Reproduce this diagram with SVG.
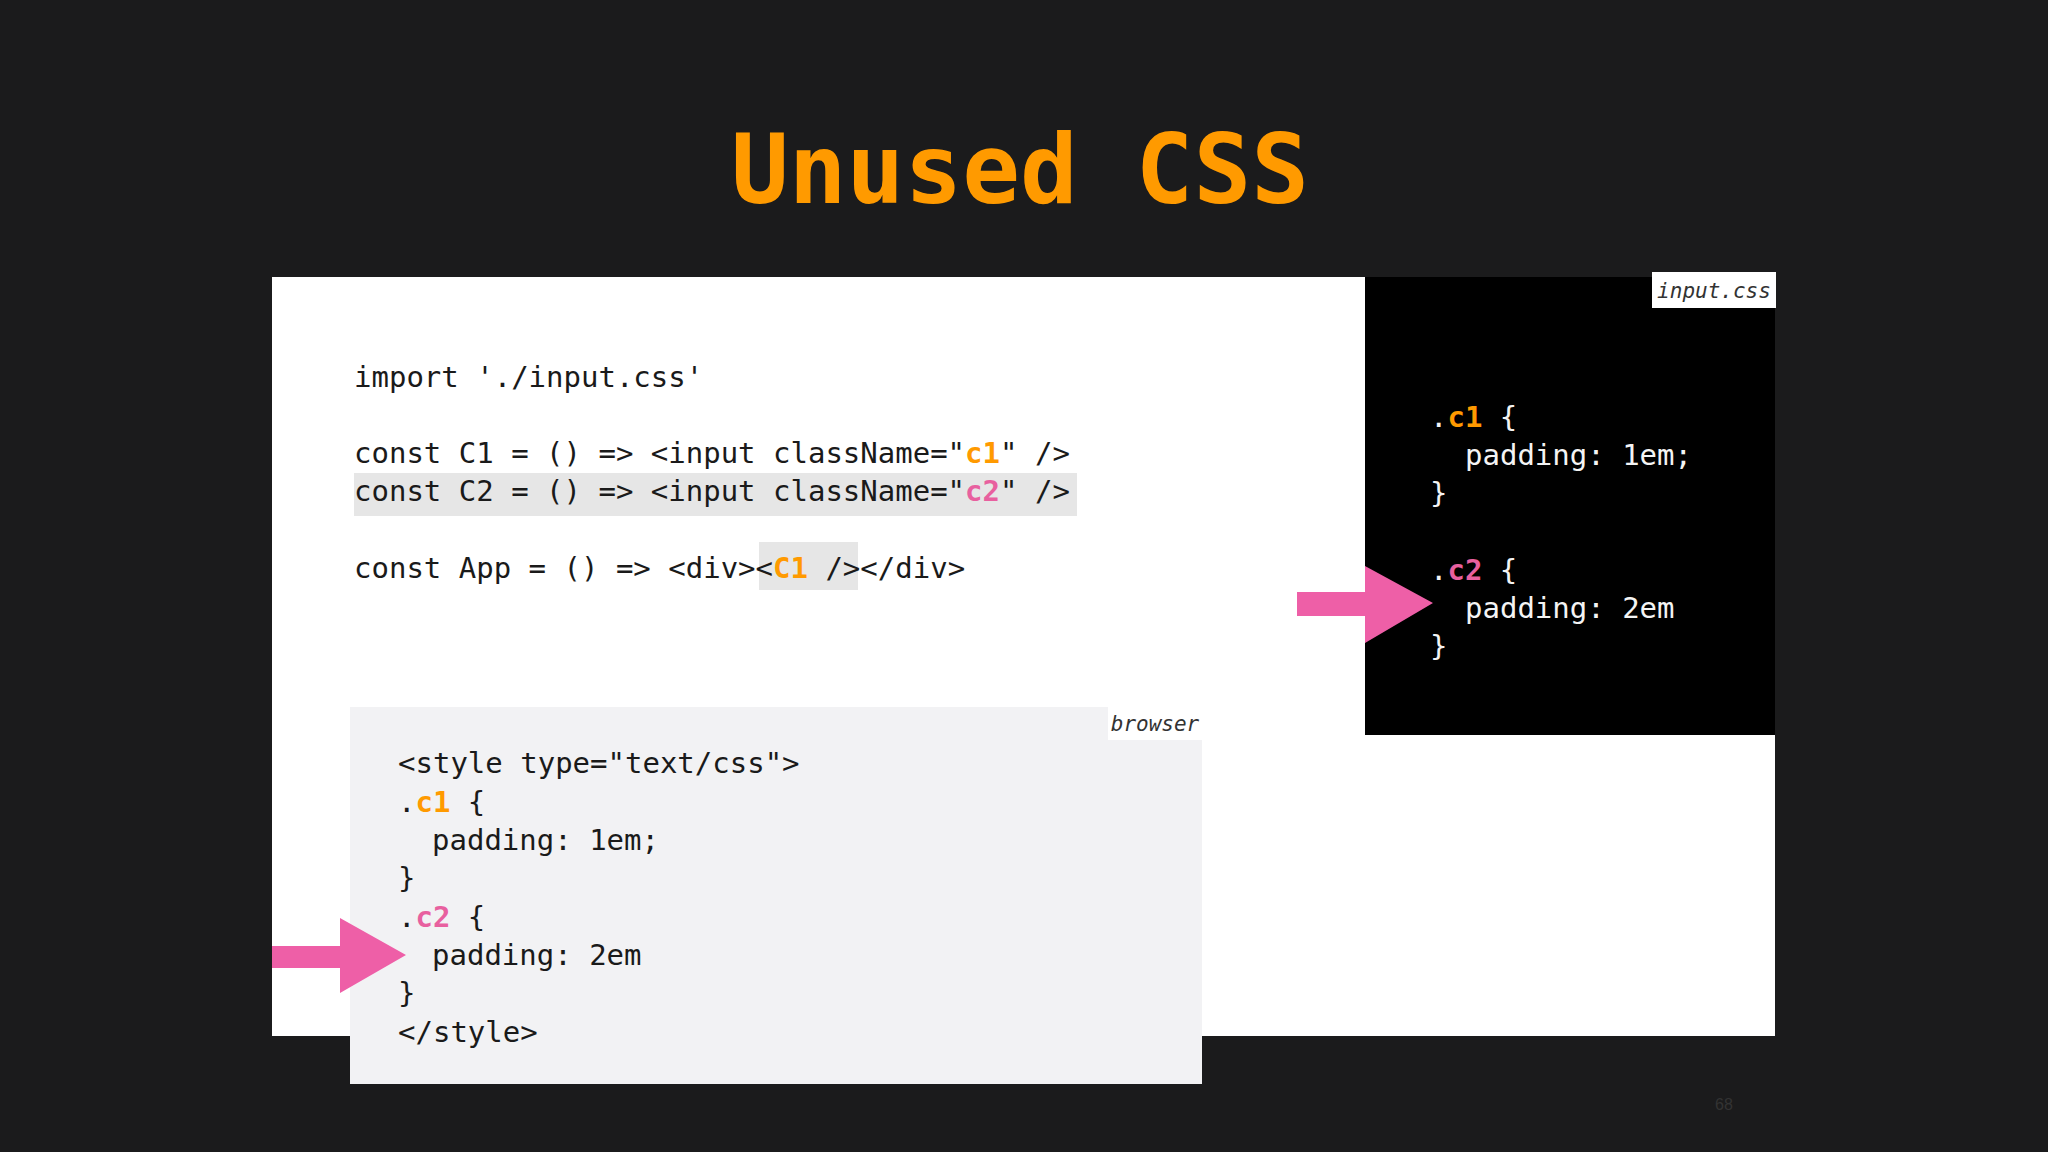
<svg xmlns="http://www.w3.org/2000/svg" width="2048" height="1152" viewBox="0 0 2048 1152">
<style>
.code{font-family:"DejaVu Sans Mono","Liberation Mono",monospace;font-size:29px;fill:#1a1a1a;white-space:pre}
.w{fill:#f4f4f4}
.o{fill:#ff9a00;font-weight:bold}
.p{fill:#e8609f;font-weight:bold}
.lbl{font-family:"DejaVu Sans Mono",monospace;font-style:italic;font-size:21px;fill:#333}
.arrow{fill:#ee5fa7}
</style>
<rect width="2048" height="1152" fill="#1b1b1c"/>
<text x="1020" y="203" text-anchor="middle" font-family="DejaVu Sans Mono,monospace" font-weight="bold" font-size="96" fill="#ff9a00">Unused CSS</text>
<g id="app">
<rect x="272" y="277" width="1503" height="759" fill="#ffffff"/>
<rect x="354" y="473" width="723" height="43" fill="#e6e6e6"/>
<rect x="759" y="542" width="99" height="48" fill="#e6e6e6"/>
<text class="code" x="354" y="387">import './input.css'</text>
<text class="code" x="354" y="463">const C1 = () =&gt; &lt;input className="<tspan class="o">c1</tspan>" /&gt;</text>
<text class="code" x="354" y="501">const C2 = () =&gt; &lt;input className="<tspan class="p">c2</tspan>" /&gt;</text>
<text class="code" x="354" y="578">const App = () =&gt; &lt;div&gt;&lt;<tspan class="o">C1</tspan> /&gt;&lt;/div&gt;</text>
</g>
<g id="inputcss">
<rect x="1365" y="277" width="410" height="458" fill="#000"/>
<rect x="1652" y="272" width="124" height="36" fill="#fff"/>
<text class="lbl" x="1714" y="298" text-anchor="middle">input.css</text>
<text class="code w" x="1430" y="427">.<tspan class="o">c1</tspan> {</text>
<text class="code w" x="1465" y="465">padding: 1em;</text>
<text class="code w" x="1430" y="503">}</text>
<text class="code w" x="1430" y="580">.<tspan class="p">c2</tspan> {</text>
<text class="code w" x="1465" y="618">padding: 2em</text>
<text class="code w" x="1430" y="656">}</text>
</g>
<g id="browser">
<rect x="350" y="707" width="852" height="377" fill="#f2f2f4"/>
<rect x="1108" y="707" width="94" height="33" fill="#fff"/>
<text class="lbl" x="1155" y="731" text-anchor="middle">browser</text>
<text class="code" x="398" y="773">&lt;style type="text/css"&gt;</text>
<text class="code" x="398" y="812">.<tspan class="o">c1</tspan> {</text>
<text class="code" x="432" y="850">padding: 1em;</text>
<text class="code" x="398" y="888">}</text>
<text class="code" x="398" y="927">.<tspan class="p">c2</tspan> {</text>
<text class="code" x="432" y="965">padding: 2em</text>
<text class="code" x="398" y="1003">}</text>
<text class="code" x="398" y="1042">&lt;/style&gt;</text>
</g>
<g id="connectors">
<polygon class="arrow" points="1297,592 1365,592 1365,566 1433,603 1365,643 1365,616 1297,616"/>
<polygon class="arrow" points="272,946 340,946 340,918 406,955 340,993 340,968 272,968"/>
</g>
<text x="1724" y="1110" text-anchor="middle" font-family="Liberation Sans,sans-serif" font-size="16" fill="#333">68</text>
</svg>
